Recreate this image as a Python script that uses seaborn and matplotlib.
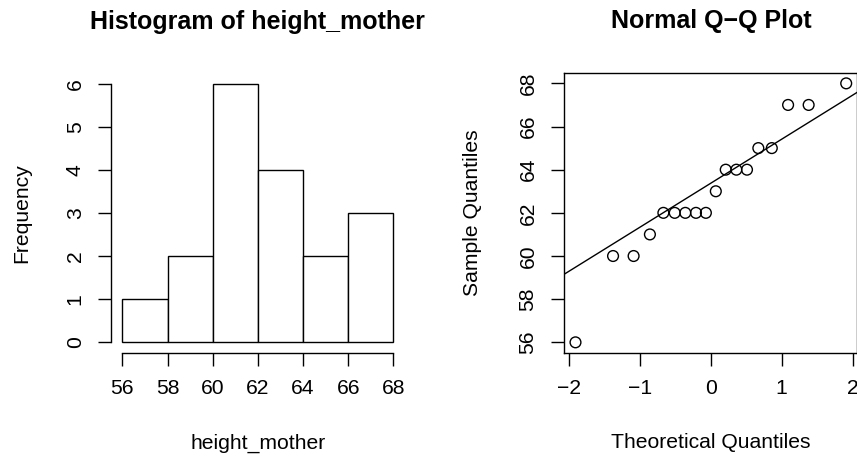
import matplotlib
matplotlib.use("Agg")
import matplotlib.pyplot as plt
import seaborn as sns
import numpy as np
import pandas as pd

# ---- data ----
bin_edges = [56, 58, 60, 62, 64, 66, 68]
bin_counts = [1, 2, 6, 4, 2, 3]
hist_yticks = [0, 1, 2, 3, 4, 5, 6]

theoretical_q = [-1.91, -1.38, -1.09, -0.86, -0.67, -0.51, -0.36, -0.21, -0.07,
                 0.07, 0.21, 0.36, 0.51, 0.67, 0.86, 1.09, 1.38, 1.91]
sample_q = [56, 60, 60, 61, 62, 62, 62, 62, 62,
            63, 64, 64, 64, 65, 65, 67, 67, 68]
qq_xticks = [-2, -1, 0, 1, 2]
qq_yticks = [56, 58, 60, 62, 64, 66, 68]
# quartile points defining the reference line (qqline)
line_theo_quartiles = [-0.6745, 0.6745]
line_sample_quartiles = [62.0, 64.75]

sns.set_style("ticks")
plt.rcParams['font.family'] = ['Liberation Sans', 'DejaVu Sans']
plt.rcParams['axes.unicode_minus'] = True
plt.rcParams['text.color'] = 'black'
plt.rcParams['axes.labelcolor'] = 'black'
plt.rcParams['xtick.color'] = 'black'
plt.rcParams['ytick.color'] = 'black'

W, H = 857, 458
fig = plt.figure(figsize=(W / 100, H / 100), dpi=100)
fig.patch.set_facecolor("white")

def px_axes(l, t, r, b):
    return fig.add_axes([l / W, 1 - b / H, (r - l) / W, (b - t) / H])

ax1 = px_axes(111.5, 74.0, 404.2, 352.6)
ax2 = px_axes(564.3, 73.0, 857.4, 352.7)

TICK_FS = 15.2
LABEL_FS = 15.2
TITLE_FS = 18
LW = 1.0

# ---- histogram ----
mids = [(a + b) / 2 for a, b in zip(bin_edges[:-1], bin_edges[1:])]
hdf = pd.DataFrame({"height_mother": mids, "count": bin_counts})
sns.histplot(data=hdf, x="height_mother", weights="count", bins=bin_edges,
             stat="count", color="white", edgecolor="black", linewidth=LW,
             alpha=1, ax=ax1)
ax1.set_xlim(55.52, 68.48)
ax1.set_ylim(-0.24, 6.24)
ax1.set_xticks(bin_edges)
ax1.set_yticks(hist_yticks)
for s in ["top", "right"]:
    ax1.spines[s].set_visible(False)
ax1.spines["left"].set_bounds(0, 6)
ax1.spines["bottom"].set_bounds(56, 68)
for s in ["left", "bottom"]:
    ax1.spines[s].set_linewidth(LW)
    ax1.spines[s].set_color("black")

# ---- QQ plot ----
qdf = pd.DataFrame({"theo": theoretical_q, "sample": sample_q})
sns.scatterplot(data=qdf, x="theo", y="sample", ax=ax2, marker="o",
                s=60, facecolor="none", edgecolor="black", linewidth=LW)
slope = (line_sample_quartiles[1] - line_sample_quartiles[0]) / \
        (line_theo_quartiles[1] - line_theo_quartiles[0])
ax2.axline((line_theo_quartiles[0], line_sample_quartiles[0]), slope=slope,
           color="black", linewidth=LW)
ax2.set_xlim(-2.068, 2.068)
ax2.set_ylim(55.52, 68.48)
ax2.set_xticks(qq_xticks)
ax2.set_yticks(qq_yticks)
for s in ax2.spines.values():
    s.set_linewidth(LW)
    s.set_color("black")

for ax in (ax1, ax2):
    ax.tick_params(axis="both", direction="out", length=9.2, width=LW,
                   colors="black", labelcolor="black", labelsize=TICK_FS)
    ax.tick_params(axis="x", pad=10)
    ax.tick_params(axis="y", pad=10)
    for lab in ax.get_yticklabels():
        lab.set_rotation(90)
        lab.set_va("center")
    ax.set_facecolor("white")

ax1.set_xlabel("height_mother", fontsize=LABEL_FS, color="black")
ax1.set_ylabel("Frequency", fontsize=LABEL_FS, color="black")
ax2.set_xlabel("Theoretical Quantiles", fontsize=LABEL_FS, color="black")
ax2.set_ylabel("Sample Quantiles", fontsize=LABEL_FS, color="black")

def set_xlabel_center(ax, y_px, ax_top, ax_bot):
    ax.xaxis.label.set_va("center")
    ax.xaxis.set_label_coords(0.5, (ax_bot - y_px) / (ax_bot - ax_top))

def set_ylabel_center(ax, x_px, ax_l, ax_r):
    ax.yaxis.label.set_va("center")
    ax.yaxis.set_label_coords((x_px - ax_l) / (ax_r - ax_l), 0.5)

set_xlabel_center(ax1, 443, 74.0, 352.6)
set_xlabel_center(ax2, 443, 73.0, 352.7)
set_ylabel_center(ax1, 22, 111.5, 404.2)
set_ylabel_center(ax2, 473, 564.3, 857.4)

fig.text(257.9 / W, 1 - 22 / H, "Histogram of height_mother", ha="center",
         va="center", fontsize=TITLE_FS, fontweight="bold", color="black")
fig.text(710.9 / W, 1 - 21 / H, "Normal Q\u2212Q Plot", ha="center",
         va="center", fontsize=TITLE_FS, fontweight="bold", color="black")

fig.savefig("out.png", dpi=100, facecolor="white")
